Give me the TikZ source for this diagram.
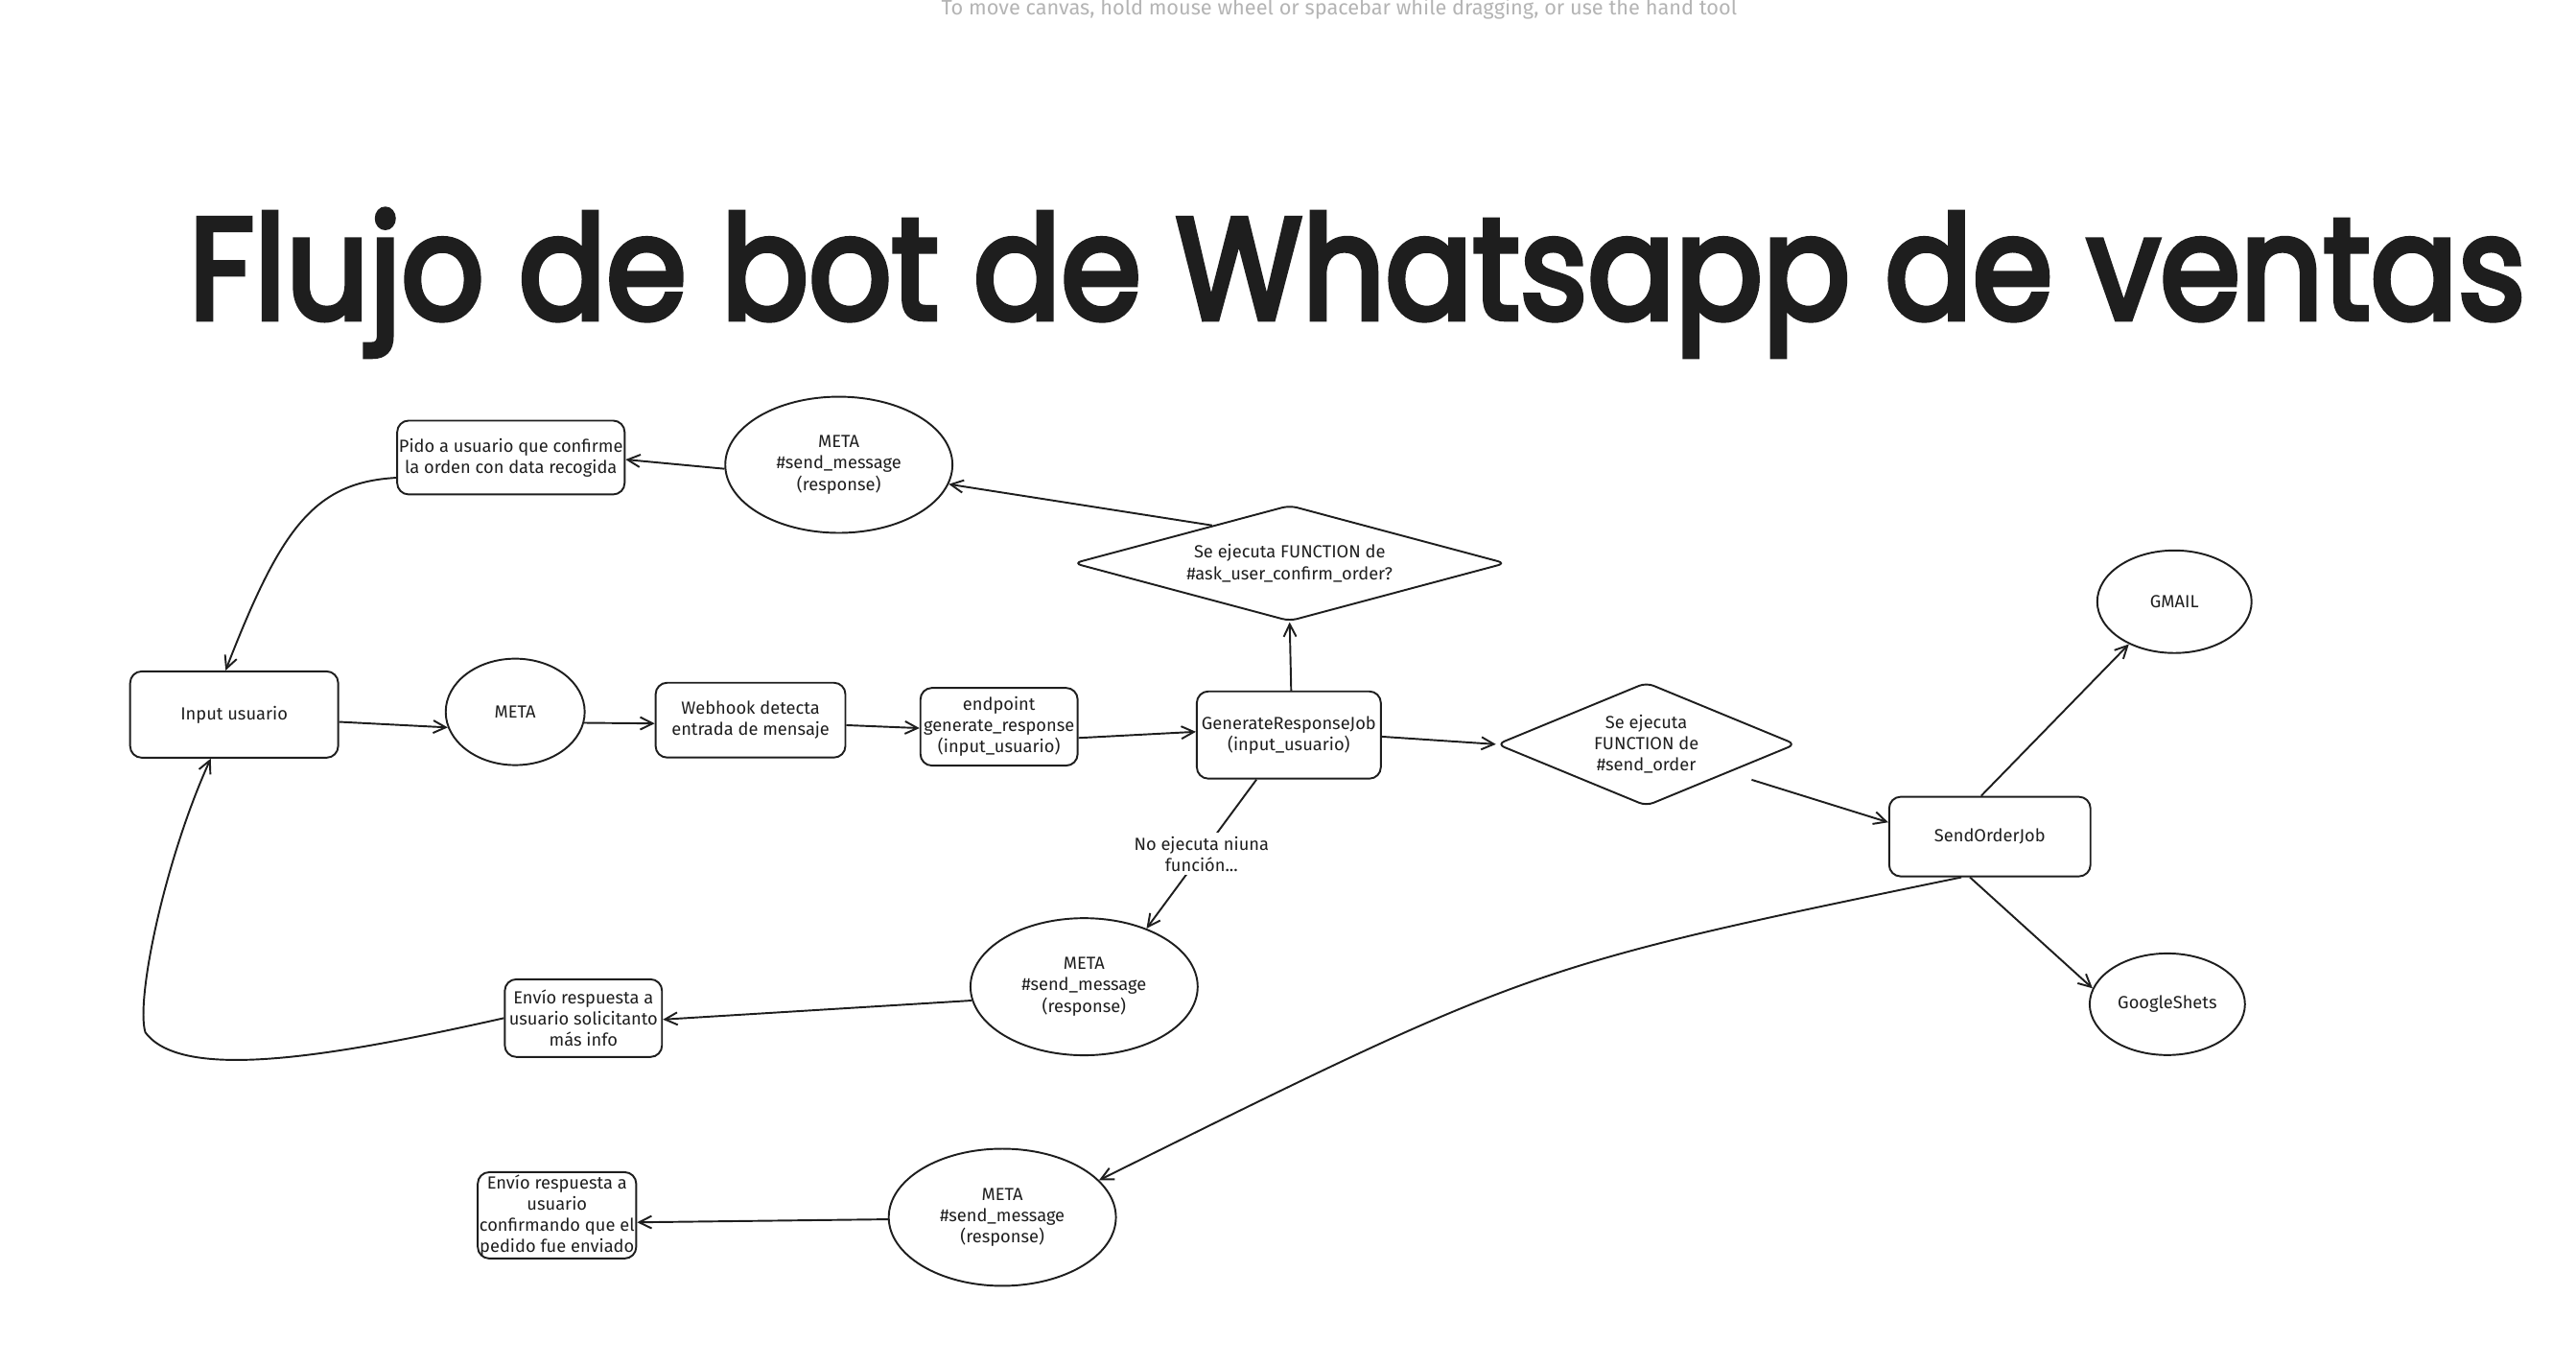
\documentclass[tikz,border=0pt]{standalone}
\usepackage{fontspec}
\setmainfont{Fira Sans}
\newfontfamily\titlefont{Poppins}[FakeBold=4]
\usetikzlibrary{shapes.geometric,arrows.meta}
\definecolor{ink}{HTML}{1E1E1E}
\definecolor{hintgray}{HTML}{B4B4B4}
\tikzset{
  box/.style={draw=ink, text=ink, rounded corners=1.2mm, align=center, inner sep=0.5pt, line width=0.55pt, font=\fontsize{5.2}{6.3}\selectfont},
  oval/.style={draw=ink, text=ink, ellipse, align=center, inner sep=0pt, line width=0.55pt, font=\fontsize{5.2}{6.3}\selectfont},
  decision/.style={draw=ink, text=ink, diamond, rounded corners=0.8mm, align=center, inner sep=0pt, line width=0.55pt, font=\fontsize{5.2}{6.3}\selectfont},
  arr/.style={draw=ink, line width=0.55pt, -{Straight Barb[length=1.3mm,width=1.3mm]}},
  lbl/.style={fill=white, text=ink, align=center, inner sep=1pt, font=\fontsize{5.2}{6.3}\selectfont}
}
\begin{document}
    \begin{tikzpicture}[x=0.01722cm, y=-0.01722cm]
        \useasboundingbox (0,0) rectangle (1560,827);
        \node[text=hintgray, anchor=base, inner sep=0pt] (hint) at (811,9) {\resizebox{8.3cm}{!}{To move canvas, hold mouse wheel or spacebar while dragging, or use the hand tool}};
        \node[text=ink, anchor=base west, inner sep=0pt] (title) at (114,193) {\resizebox{24.37cm}{1.14cm}{\titlefont Flujo de bot de Whatsapp de ventas}};

        \node[box, minimum width=2.17cm, minimum height=0.90cm] (input) at (141.8,432.6) {Input usuario};
        \node[oval, minimum width=1.45cm, minimum height=1.11cm] (meta1) at (312,431) {META};
        \node[box, minimum width=1.98cm, minimum height=0.78cm] (webhook) at (454.5,436) {Webhook detecta\\entrada de mensaje};
        \node[box, minimum width=1.64cm, minimum height=0.81cm] (endpoint) at (605,440) {endpoint\\generate\_response\\(input\_usuario)};
        \node[box, minimum width=1.92cm, minimum height=0.91cm] (grj) at (780.5,445) {GenerateResponseJob\\(input\_usuario)};
        \node[decision, aspect=3.73, minimum width=4.51cm, minimum height=1.21cm] (ask) at (781,341) {Se ejecuta FUNCTION de\\\#ask\_user\_confirm\_order?};
        \node[oval, minimum width=2.37cm, minimum height=1.42cm] (metatop) at (508,281.4) {META\\\#send\_message\\(response)};
        \node[box, minimum width=2.36cm, minimum height=0.77cm] (pido) at (309.4,277) {Pido a usuario que confirme\\la orden con data recogida};
        \node[decision, aspect=2.42, minimum width=3.12cm, minimum height=1.29cm] (sendq) at (997,450.6) {Se ejecuta\\FUNCTION de\\\#send\_order};
        \node[box, minimum width=2.10cm, minimum height=0.83cm] (sendorder) at (1205,506.5) {SendOrderJob};
        \node[oval, minimum width=1.61cm, minimum height=1.07cm] (gmail) at (1316.8,364.3) {GMAIL};
        \node[oval, minimum width=1.62cm, minimum height=1.06cm] (gsheets) at (1312.5,608) {GoogleShets};
        \node[oval, minimum width=2.37cm, minimum height=1.43cm] (metamid) at (656.5,597.4) {META\\\#send\_message\\(response)};
        \node[box, minimum width=1.64cm, minimum height=0.81cm] (envinfo) at (353.3,616.4) {Envío respuesta a\\usuario solicitanto\\más info};
        \node[oval, minimum width=2.37cm, minimum height=1.43cm] (metabot) at (607,737) {META\\\#send\_message\\(response)};
        \node[box, minimum width=1.63cm, minimum height=0.90cm] (envconf) at (337.3,735.8) {Envío respuesta a\\usuario\\confirmando que el\\pedido fue enviado};

        \draw[arr] (input.-4) -- (meta1.193);
        \draw[arr] (meta1.-9) -- (webhook.182);
        \draw[arr] (webhook.-3) -- (endpoint.181);
        \draw[arr] (endpoint.-8) -- (grj.178);
        \draw[arr] (grj.87) -- (ask.south);
        \draw[arr] (ask.154) -- (metatop.-10);
        \draw[arr] (metatop.182) -- (pido.-1);
        \draw[arr] (pido.190) .. controls (190,292) and (170,320) .. (input.101);
        \draw[arr] (grj.-1) -- (sendq.west);
        \draw[arr, shorten <=2.5mm] (sendq.-19) -- (sendorder.172);
        \draw[arr] (sendorder.102) -- (gmail.223);
        \draw[arr] (sendorder.244) -- (gsheets.168);
        \draw[arr] (sendorder.235) .. controls (927,585) .. (metabot.21);
        \draw[arr] (metabot.181) -- (envconf.-5);
        \draw[arr] (grj.234) -- node[lbl] (nofunc) {No ejecuta niuna\\función...} (metamid.43);
        \draw[arr] (metamid.187) -- (envinfo.-1);
        \draw[arr] (envinfo.west) .. controls (200,640) and (110,655) .. (88,625) .. controls (82,605) and (100,520) .. (input.242);
    \end{tikzpicture}
\end{document}
